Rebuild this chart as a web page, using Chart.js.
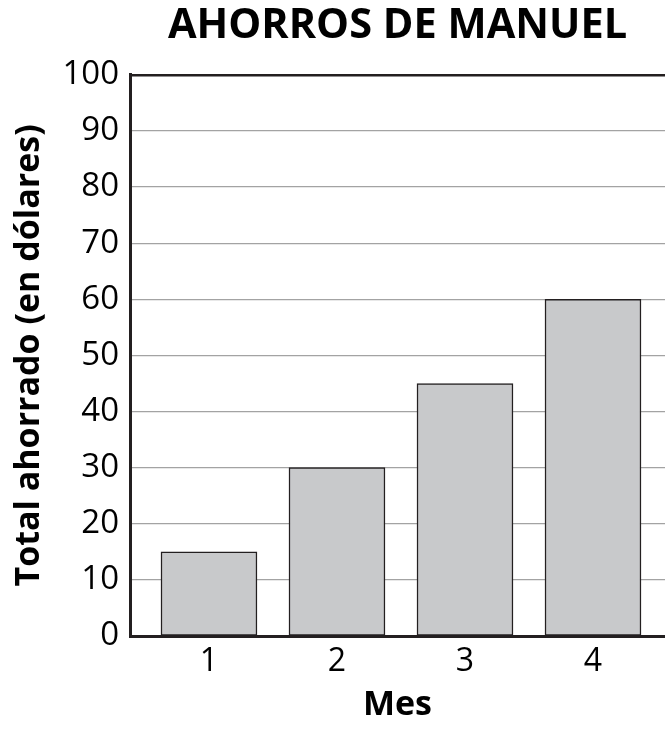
<!DOCTYPE html>
<html>
<head>
<meta charset="utf-8">
<script src="https://cdn.jsdelivr.net/npm/chart.js@4/dist/chart.umd.min.js"></script>
<style>
  html, body { margin: 0; padding: 0; background: #ffffff; }
  #wrap { width: 665px; height: 730px; }
</style>
</head>
<body>
<div id="wrap"><canvas id="chart" width="665" height="730"></canvas></div>
<script>
// Savings per month
const meses = [1, 2, 3, 4];
const ahorros = [15, 30, 45, 60];
const yTicks = [0, 10, 20, 30, 40, 50, 60, 70, 80, 90, 100];

const tituloGrafica = 'AHORROS DE MANUEL';
const tituloEjeX = 'Mes';
const tituloEjeY = 'Total ahorrado (en dólares)';

const INK = '#231f20';
const FONT = '"Open Sans", "Noto Sans", sans-serif';

new Chart(document.getElementById('chart'), {
  type: 'bar',
  data: {
    datasets: [{
      data: meses.map((m, i) => ({ x: m, y: ahorros[i] })),
      backgroundColor: '#c8c9cb',
      borderColor: INK,
      borderWidth: 1.5,
      borderSkipped: false,
      barThickness: 96
    }]
  },
  options: {
    responsive: false,
    animation: false,
    devicePixelRatio: 1,
    layout: { padding: { left: 0, right: 0, top: 0, bottom: 0 } },
    plugins: {
      legend: { display: false },
      tooltip: { enabled: false },
      title: {
        display: true,
        text: tituloGrafica,
        fullSize: false,
        color: '#000',
        font: { family: FONT, size: 41.5, weight: 'bold' },
        padding: { top: 1, bottom: 24 }
      }
    },
    scales: {
      x: {
        type: 'linear',
        offset: false,
        min: 0.383,
        max: 4.5625,
        afterBuildTicks: axis => { axis.ticks = meses.map(v => ({ value: v })); },
        afterFit: axis => { axis.height = 94; },
        grid: { display: false, drawTicks: false },
        border: { display: true, color: INK, width: 3 },
        ticks: {
          color: '#000',
          padding: 7,
          font: { family: FONT, size: 32 }
        },
        title: {
          display: true,
          text: tituloEjeX,
          color: '#000',
          font: { family: FONT, size: 34, weight: 'bold' },
          padding: { top: 0, bottom: 4 }
        }
      },
      y: {
        min: 0,
        max: 100,
        afterBuildTicks: axis => { axis.ticks = yTicks.map(v => ({ value: v })); },
        afterFit: axis => { axis.width = 130; },
        grid: {
          drawTicks: false,
          color: ctx => ctx.tick && ctx.tick.value === 100 ? INK : '#a3a3a3',
          lineWidth: ctx => ctx.tick && ctx.tick.value === 100 ? 2.5 : 1.3
        },
        border: { display: true, color: INK, width: 3 },
        ticks: {
          color: '#000',
          padding: 11,
          font: { family: FONT, size: 33 }
        },
        title: {
          display: true,
          text: tituloEjeY,
          color: '#000',
          font: { family: FONT, size: 34, weight: 'bold' },
          padding: { top: 9, bottom: 0 }
        }
      }
    }
  }
});
</script>
</body>
</html>
